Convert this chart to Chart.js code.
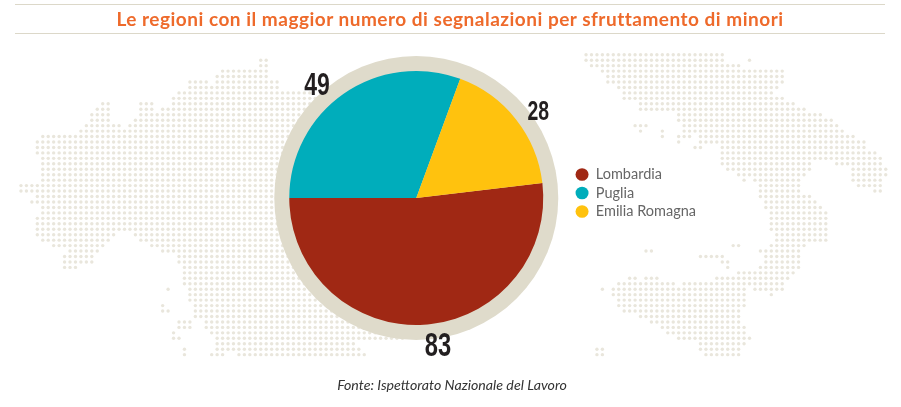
<!DOCTYPE html>
<html lang="it">
<head>
<meta charset="UTF-8">
<title>Le regioni con il maggior numero di segnalazioni per sfruttamento di minori</title>
<script src="https://cdn.jsdelivr.net/npm/chart.js@4"></script>
<style>
    body { margin: 0; background: #fff; }
    #wrap { position: relative; width: 901px; height: 407px; overflow: hidden; }
    canvas { position: absolute; left: 0; top: 0; }
    #title {
        position: absolute; left: 15px; top: 4px; width: 870px; height: 28px;
        border-top: 1.5px solid #dcd8c9; border-bottom: 1.5px solid #dcd8c9;
        text-align: center; letter-spacing: 0.5px;
        font: bold 19px/28px Lato, sans-serif; color: #ee6a2b;
    }
    #source {
        position: absolute; left: 0; top: 376px; width: 904px; text-align: center;
        font: italic 14.2px Lato, sans-serif; color: #333;
    }
</style>
</head>
<body>
<div id="wrap">
    <canvas id="mapChart" width="901" height="407"></canvas>
    <canvas id="pieChart" width="901" height="407"></canvas>
    <div id="title">Le regioni con il maggior numero di segnalazioni per sfruttamento di minori</div>
    <div id="source">Fonte: Ispettorato Nazionale del Lavoro</div>
</div>
<script>
    // Dati
    const regions = ['Lombardia', 'Puglia', 'Emilia Romagna'];
    const reports = [83, 49, 28];
    const regionColors = ['#a02814', '#00adbb', '#ffc20e'];

    // Mappa di sfondo: per ogni riga, coppie colonna inizio / colonna fine
    const leftMapFirstRow = 1;
    const leftMapRows = [
        [44,45],[44,45],[37,45],[36,45],[31,34,36,47],[31,47],[29,53],[28,70],
        [15,16,22,24,28,70],[14,16,22,24,26,70],[13,16,22,70],[13,16,21,70],[12,18,20,70],[11,70],
        [4,70],[3,70],[3,70],[3,70],[4,70],[4,70],[4,70],[4,70],[4,70],[0,70],[0,70],[3,70],[2,70],
        [4,70],[4,70],[3,70],[3,70],[3,70],[3,17,21,70],[4,16,22,70],[6,15,24,70],[9,14,26,70],
        [8,13,29,70],[8,13,29,70],[8,10,30,70],[30,70],[30,70],[30,70],[27,27,31,70],[31,70],[31,70],
        [26,26,32,70],[26,27,32,70],[32,70],[29,31,34,70],[29,31,34,70],[28,28,35,70],[28,29,36,70],
        [36,61],[30,30,36,62],[30,30,35,37,40,63]
    ];
    const rightMapColOffset = 103.7;
    const rightMapRows = [
        [0,25],[0,25,30,30],[1,28],[3,36],[4,36],[4,36],[6,35],[7,34],[7,36],[10,38],[10,16,17,40],
        [17,43],[17,45],[9,11,18,46],[10,10,14,14,18,47],[14,14,17,19,21,49],[17,17,21,51],[20,21,25,51],
        [25,53],[25,42,43,54],[25,41,46,54],[26,41,49,55],[28,40,49,55],[29,29,31,39,49,54],[32,39,50,54],
        [32,39,53,54],[32,41],[33,42],[33,43],[34,44],[34,44],[34,44],[34,44],[35,44],[35,44],
        [27,28,34,40],[11,12,32,39],[21,25,33,39],[25,26,33,39],[26,26,32,39],[28,31,32,38],
        [8,9,11,13,24,30,31,37],[6,16,18,30,31,36],[3,3,5,29,31,36],[5,29,34,34],[6,29],[6,29],[7,28],
        [10,28],[12,28],[14,29],[15,29],[17,30],[21,29],[2,3,21,28],[2,3,22,28]
    ];

    // Espande le righe in punti per lo scatter
    function rowsToPoints(rows, firstRow, colOffset) {
        let points = [];
        rows.forEach((runs, i) => {
            for (let r = 0; r < runs.length; r += 2) {
                for (let c = runs[r]; c <= runs[r + 1]; c++) {
                    points.push({ x: c + colOffset, y: i + firstRow });
                }
            }
        });
        return points;
    }

    new Chart(document.getElementById('mapChart'), {
        type: 'scatter',
        data: {
            datasets: [{
                data: rowsToPoints(leftMapRows, leftMapFirstRow, 0).concat(rowsToPoints(rightMapRows, 0, rightMapColOffset)),
                backgroundColor: '#e9e6dc',
                borderWidth: 0,
                pointRadius: 1.7
            }]
        },
        options: {
            responsive: false,
            animation: false,
            layout: { padding: 0, autoPadding: false },
            plugins: { legend: { display: false }, tooltip: { enabled: false } },
            scales: {
                x: { display: false, min: -3.85, max: 161.5 },
                y: { display: false, min: -10.04, max: 64.6, reverse: true }
            }
        }
    });

    // Anello beige dietro la torta
    const ringPlugin = {
        id: 'ring',
        beforeDatasetsDraw(chart) {
            const arc = chart.getDatasetMeta(0).data[0];
            const ctx = chart.ctx;
            ctx.save();
            ctx.fillStyle = '#dfdbcb';
            ctx.beginPath();
            ctx.arc(arc.x, arc.y, 142, 0, Math.PI * 2);
            ctx.fill();
            ctx.restore();
        }
    };

    // Valori fuori dalla torta (cifre strette: nessun font condensato installato)
    const labelSizes = [33, 32, 27];
    const labelNudges = [[13, 0], [-14, 10], [5, 7]];
    const valueLabelPlugin = {
        id: 'valueLabels',
        afterDatasetsDraw(chart) {
            const ctx = chart.ctx;
            chart.getDatasetMeta(0).data.forEach((arc, i) => {
                const mid = (arc.startAngle + arc.endAngle) / 2;
                ctx.save();
                ctx.fillStyle = '#231f20';
                ctx.textAlign = 'center';
                ctx.textBaseline = 'middle';
                ctx.font = 'bold ' + labelSizes[i] + 'px "Liberation Sans"';
                ctx.translate(arc.x + Math.cos(mid) * 149 + labelNudges[i][0], arc.y + Math.sin(mid) * 149 + labelNudges[i][1]);
                ctx.scale(0.72, 1);
                ctx.fillText(reports[i], 0, 0);
                ctx.restore();
            });
        }
    };

    // Sposta la legenda un po' sopra il centro della torta
    const legendShiftPlugin = {
        id: 'legendShift',
        afterLayout(chart) {
            chart.legend.top -= 5;
            chart.legend.bottom -= 5;
        }
    };

    new Chart(document.getElementById('pieChart'), {
        type: 'pie',
        data: {
            labels: regions,
            datasets: [{ data: reports, backgroundColor: regionColors, borderWidth: 0 }]
        },
        plugins: [ringPlugin, valueLabelPlugin, legendShiftPlugin],
        options: {
            responsive: false,
            animation: false,
            radius: 127,
            rotation: 83.25,
            layout: { padding: { left: 261, right: 195, top: 56, bottom: 67 } },
            plugins: {
                tooltip: { enabled: false },
                legend: {
                    position: 'right',
                    labels: {
                        usePointStyle: true,
                        pointStyle: 'circle',
                        boxHeight: 9,
                        pointStyleWidth: 13,
                        padding: 4,
                        color: '#666',
                        font: { family: 'Lato', size: 14.5 }
                    }
                }
            }
        }
    });
</script>
</body>
</html>
